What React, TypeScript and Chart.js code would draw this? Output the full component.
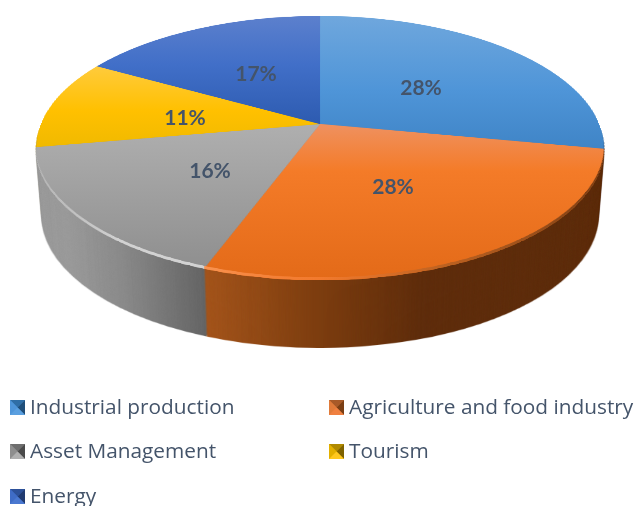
import React, { useEffect, useRef } from "react";
import { Chart, registerables } from "chart.js";

Chart.register(...registerables);

const categories = ["Industrial production", "Agriculture and food industry", "Asset Management", "Tourism", "Energy"];
const shares = [28, 27.6, 16.6, 11, 16.8];
const shareLabels = ["28%", "28%", "16%", "11%", "17%"];
const baseColors = ["#4E95D9", "#F47B28", "#A5A5A5", "#FFC000", "#3F6CC6"];

const faceStops: [number, string][][] = [
  [[0, "#6FA7DD"], [0.55, "#4F95D8"], [1, "#3F84C6"]],
  [[0, "#EF9160"], [0.3, "#F47B28"], [1, "#E36A18"]],
  [[0, "#AFAFAF"], [1, "#8E8E8E"]],
  [[0, "#FFCB3C"], [0.5, "#FFC000"], [1, "#EDB800"]],
  [[0, "#5C80CD"], [0.45, "#416FC8"], [1, "#2D5BB0"]],
];
const faceRange = [[16, 150], [124, 281], [124, 272], [66, 156], [16, 124]];
const wallStops: [number, string][][] = [
  [[0, "#1E4E7C"], [1, "#1E4E7C"]],
  [[0.3, "#A3541B"], [0.5, "#7C3D0F"], [0.68, "#5F2D0C"], [1, "#5E2D0C"]],
  [[0.05, "#9B9B9B"], [0.15, "#8A8A8A"], [0.32, "#5F5F5F"]],
  [[0, "#8F7A20"], [1, "#8F7A20"]],
  [[0, "#2D5BB0"], [1, "#2D5BB0"]],
];
const swatchShades = [
  ["#2F6EA6", "#4E95D9", "#1F4E79", "#5BA0E0"],
  ["#A85A28", "#E07B3A", "#7A3E14", "#F08040"],
  ["#6E6E6E", "#8E8E8E", "#4A4A4A", "#B0B0B0"],
  ["#B08A00", "#E3B000", "#7F6300", "#FFC81F"],
  ["#2D5199", "#3F6CC6", "#203A70", "#4A78D0"],
];

const APEX_X = 320, APEX_Y = 124, A = 127.6, K = -0.1818, B = 279;
const DEPTH = 68, SHRINK = 0.02;
const W = 636, H = 506;

const labelAnchors = [[421, 88], [393, 187], [210, 171], [185, 118], [256, 74]];
const legendAnchors = [[10, 407], [329, 407], [10, 451], [329, 451], [10, 496]];

function mk() {
  const c = document.createElement("canvas");
  c.width = W; c.height = H;
  return c;
}

function warp(src: HTMLCanvasElement, cx: number, cy: number, R: number) {
  const out = mk();
  const g = out.getContext("2d")!;
  g.imageSmoothingEnabled = true;
  g.imageSmoothingQuality = "high";
  const vOf = (y: number) => {
    const d = y - APEX_Y;
    return Math.max(-1, Math.min(1, d / (A - K * d)));
  };
  for (let y = 14; y < 284; y++) {
    const v0 = vOf(y), v1 = vOf(y + 1);
    if (v1 <= v0) continue;
    const w = B / (1 + K * (v0 + v1) / 2);
    g.drawImage(src, cx - R, cy + R * v0, 2 * R, Math.max((v1 - v0) * R, 0.5), APEX_X - w, y, 2 * w, 1);
  }
  return out;
}

function tint(c: HTMLCanvasElement, grad: (g: CanvasRenderingContext2D) => CanvasGradient, op: GlobalCompositeOperation) {
  const out = mk();
  const g = out.getContext("2d")!;
  g.drawImage(c, 0, 0);
  g.globalCompositeOperation = op;
  g.fillStyle = grad(g);
  g.fillRect(0, 0, W, H);
  return out;
}

const pie3d = {
  id: "pie3d",
  beforeDatasetsDraw(chart: any) {
    const ctx: CanvasRenderingContext2D = chart.ctx;
    const arcs = chart.getDatasetMeta(0).data;
    const faces: HTMLCanvasElement[] = [];
    const walls: HTMLCanvasElement[] = [];
    const whole = mk();
    const wg = whole.getContext("2d")!;
    arcs.forEach((arc: any, i: number) => {
      const flat = mk();
      arc.draw(flat.getContext("2d"));
      const warped = warp(flat, arc.x, arc.y, arc.outerRadius);
      faces.push(tint(warped, (g) => {
        const gr = g.createLinearGradient(0, faceRange[i][0], 0, faceRange[i][1]);
        faceStops[i].forEach(([o, c]) => gr.addColorStop(o, c));
        return gr;
      }, "source-atop"));
      walls.push(tint(warped, (g) => {
        const gr = g.createLinearGradient(36, 0, 604, 0);
        wallStops[i].forEach(([o, c]) => gr.addColorStop(o, c));
        return gr;
      }, "source-atop"));
      wg.drawImage(warped, 0, 0);
    });
    // saturate the alpha so slice seams leave no trace in the rim mask
    wg.drawImage(whole, 0, 0);
    wg.drawImage(whole, 0, 0);
    ctx.save();
    for (let d = DEPTH; d >= 1; d--) {
      const s = 1 - SHRINK * d / DEPTH;
      walls.forEach((w) => ctx.drawImage(w, APEX_X * (1 - s), d, W * s, H));
    }
    // two passes close the anti-aliased seams between neighbouring slices
    faces.forEach((f) => ctx.drawImage(f, 0, 0));
    faces.forEach((f) => ctx.drawImage(f, 0, 0));

    // rim: lower outer edge of the top face
    const rim = mk();
    const rg = rim.getContext("2d")!;
    rg.drawImage(whole, 0, 0);
    rg.globalCompositeOperation = "destination-out";
    rg.drawImage(whole, 0, -3);
    rg.globalCompositeOperation = "source-atop";
    const gr = rg.createLinearGradient(36, 0, 604, 0);
    gr.addColorStop(0, "rgba(200,200,200,0.5)");
    gr.addColorStop(0.15, "rgba(215,215,215,0.9)");
    gr.addColorStop(0.295, "rgba(215,215,215,0.9)");
    gr.addColorStop(0.297, "rgba(250,150,85,0.9)");
    gr.addColorStop(0.5, "rgba(240,120,50,0.5)");
    gr.addColorStop(0.72, "rgba(150,80,28,0.6)");
    gr.addColorStop(1, "rgba(90,45,15,0.8)");
    rg.fillStyle = gr;
    rg.fillRect(0, 0, W, H);
    ctx.filter = "blur(0.7px)";
    ctx.drawImage(rim, 0, 0);
    ctx.filter = "none";

    // value labels
    ctx.font = "bold 21px Lato";
    ctx.fillStyle = "#44546A";
    ctx.textAlign = "center";
    ctx.textBaseline = "middle";
    shareLabels.forEach((t, i) => ctx.fillText(t, labelAnchors[i][0], labelAnchors[i][1]));

    // legend
    ctx.font = "20.8px 'Open Sans'";
    ctx.textAlign = "left";
    categories.forEach((t, i) => {
      const [x, y] = legendAnchors[i];
      const sz = 15, t0 = y - 7;
      const cxs = x + sz / 2, cys = t0 + sz / 2;
      ctx.fillStyle = swatchShades[i][1];
      ctx.fillRect(x, t0, sz, sz);
      const tris = [
        [[x, t0], [x + sz, t0]],
        [[x, t0], [x, t0 + sz]],
        [[x + sz, t0], [x + sz, t0 + sz]],
        [[x, t0 + sz], [x + sz, t0 + sz]],
      ];
      tris.forEach((p, k) => {
        ctx.fillStyle = swatchShades[i][k];
        ctx.beginPath();
        ctx.moveTo(p[0][0], p[0][1]);
        ctx.lineTo(p[1][0], p[1][1]);
        ctx.lineTo(cxs, cys);
        ctx.closePath();
        ctx.fill();
      });
      ctx.fillStyle = "#44546A";
      ctx.fillText(t, x + 20, y + 1.5);
    });
    ctx.restore();
    return false;
  },
};

export default function App() {
  const ref = useRef<HTMLCanvasElement>(null);
  useEffect(() => {
    const chart = new Chart(ref.current!, {
      type: "pie",
      data: {
        labels: categories,
        datasets: [{ data: shares, backgroundColor: baseColors, borderWidth: 0 }],
      },
      options: {
        responsive: false,
        animation: false,
        plugins: { legend: { display: false }, tooltip: { enabled: false } },
      },
      plugins: [pie3d],
    } as any);
    return () => chart.destroy();
  }, []);
  return (
    <div style={{ position: "absolute", left: 0, top: 0, width: W, height: H, background: "#fff" }}>
      <canvas ref={ref} width={W} height={H} style={{ display: "block" }} />
    </div>
  );
}
